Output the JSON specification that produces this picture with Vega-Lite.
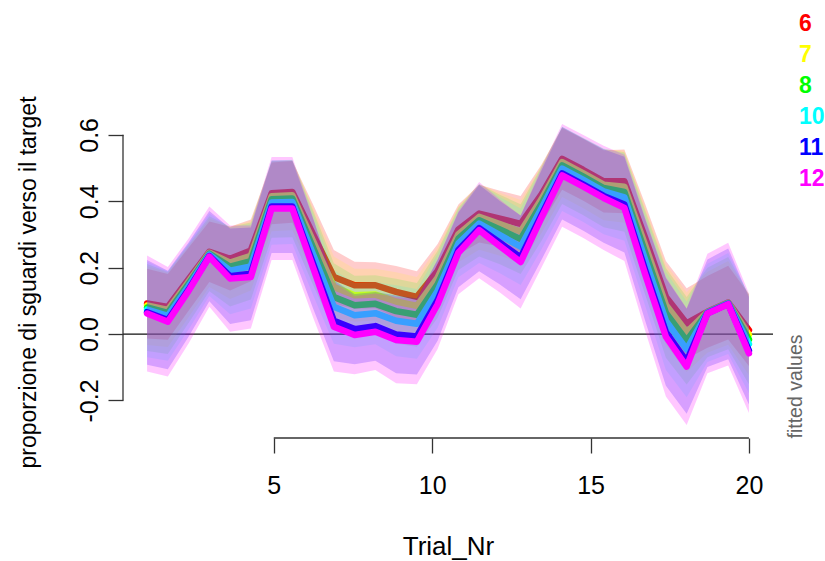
{
  "$schema": "https://vega.github.io/schema/vega-lite/v6.json",
  "width": 650,
  "height": 336,
  "autosize": {"type": "none"},
  "padding": {"left": 123, "top": 102, "right": 52, "bottom": 123},
  "background": "white",
  "config": {"view": {"stroke": null}, "font": "Liberation Sans"},
  "resolve": {"axis": {"y": "independent"}},
  "data": {"values": [
    {"trial": 1, "group": 6, "fit": 0.092, "lo": -0.013, "hi": 0.197},
    {"trial": 1.655, "group": 6, "fit": 0.082, "lo": -0.017, "hi": 0.181},
    {"trial": 2.31, "group": 6, "fit": 0.165, "lo": 0.07, "hi": 0.26},
    {"trial": 2.966, "group": 6, "fit": 0.248, "lo": 0.157, "hi": 0.339},
    {"trial": 3.621, "group": 6, "fit": 0.227, "lo": 0.131, "hi": 0.323},
    {"trial": 4.276, "group": 6, "fit": 0.252, "lo": 0.159, "hi": 0.345},
    {"trial": 4.931, "group": 6, "fit": 0.424, "lo": 0.331, "hi": 0.517},
    {"trial": 5.586, "group": 6, "fit": 0.428, "lo": 0.335, "hi": 0.521},
    {"trial": 6.241, "group": 6, "fit": 0.3, "lo": 0.21, "hi": 0.39},
    {"trial": 6.897, "group": 6, "fit": 0.172, "lo": 0.091, "hi": 0.253},
    {"trial": 7.552, "group": 6, "fit": 0.147, "lo": 0.076, "hi": 0.218},
    {"trial": 8.207, "group": 6, "fit": 0.147, "lo": 0.078, "hi": 0.216},
    {"trial": 8.862, "group": 6, "fit": 0.127, "lo": 0.049, "hi": 0.205},
    {"trial": 9.517, "group": 6, "fit": 0.112, "lo": 0.035, "hi": 0.189},
    {"trial": 10.172, "group": 6, "fit": 0.19, "lo": 0.109, "hi": 0.271},
    {"trial": 10.828, "group": 6, "fit": 0.315, "lo": 0.24, "hi": 0.39},
    {"trial": 11.483, "group": 6, "fit": 0.363, "lo": 0.276, "hi": 0.45},
    {"trial": 12.138, "group": 6, "fit": 0.348, "lo": 0.264, "hi": 0.432},
    {"trial": 12.793, "group": 6, "fit": 0.332, "lo": 0.248, "hi": 0.416},
    {"trial": 13.448, "group": 6, "fit": 0.42, "lo": 0.33, "hi": 0.51},
    {"trial": 14.103, "group": 6, "fit": 0.528, "lo": 0.435, "hi": 0.621},
    {"trial": 14.759, "group": 6, "fit": 0.495, "lo": 0.402, "hi": 0.588},
    {"trial": 15.414, "group": 6, "fit": 0.46, "lo": 0.366, "hi": 0.554},
    {"trial": 16.069, "group": 6, "fit": 0.46, "lo": 0.364, "hi": 0.556},
    {"trial": 16.724, "group": 6, "fit": 0.29, "lo": 0.188, "hi": 0.392},
    {"trial": 17.379, "group": 6, "fit": 0.112, "lo": 0.004, "hi": 0.22},
    {"trial": 18.034, "group": 6, "fit": 0.032, "lo": -0.074, "hi": 0.138},
    {"trial": 18.69, "group": 6, "fit": 0.067, "lo": -0.041, "hi": 0.175},
    {"trial": 19.345, "group": 6, "fit": 0.095, "lo": -0.016, "hi": 0.206},
    {"trial": 20, "group": 6, "fit": 0.012, "lo": -0.096, "hi": 0.12},

    {"trial": 1, "group": 7, "fit": 0.086, "lo": -0.033, "hi": 0.205},
    {"trial": 1.655, "group": 7, "fit": 0.073, "lo": -0.039, "hi": 0.185},
    {"trial": 2.31, "group": 7, "fit": 0.158, "lo": 0.051, "hi": 0.265},
    {"trial": 2.966, "group": 7, "fit": 0.245, "lo": 0.142, "hi": 0.348},
    {"trial": 3.621, "group": 7, "fit": 0.215, "lo": 0.106, "hi": 0.324},
    {"trial": 4.276, "group": 7, "fit": 0.236, "lo": 0.131, "hi": 0.341},
    {"trial": 4.931, "group": 7, "fit": 0.415, "lo": 0.31, "hi": 0.52},
    {"trial": 5.586, "group": 7, "fit": 0.418, "lo": 0.313, "hi": 0.523},
    {"trial": 6.241, "group": 7, "fit": 0.28, "lo": 0.178, "hi": 0.382},
    {"trial": 6.897, "group": 7, "fit": 0.142, "lo": 0.05, "hi": 0.234},
    {"trial": 7.552, "group": 7, "fit": 0.117, "lo": 0.037, "hi": 0.197},
    {"trial": 8.207, "group": 7, "fit": 0.119, "lo": 0.041, "hi": 0.197},
    {"trial": 8.862, "group": 7, "fit": 0.098, "lo": 0.01, "hi": 0.186},
    {"trial": 9.517, "group": 7, "fit": 0.085, "lo": -0.002, "hi": 0.172},
    {"trial": 10.172, "group": 7, "fit": 0.17, "lo": 0.078, "hi": 0.262},
    {"trial": 10.828, "group": 7, "fit": 0.301, "lo": 0.216, "hi": 0.386},
    {"trial": 11.483, "group": 7, "fit": 0.353, "lo": 0.254, "hi": 0.452},
    {"trial": 12.138, "group": 7, "fit": 0.331, "lo": 0.236, "hi": 0.426},
    {"trial": 12.793, "group": 7, "fit": 0.309, "lo": 0.214, "hi": 0.404},
    {"trial": 13.448, "group": 7, "fit": 0.406, "lo": 0.304, "hi": 0.508},
    {"trial": 14.103, "group": 7, "fit": 0.518, "lo": 0.413, "hi": 0.623},
    {"trial": 14.759, "group": 7, "fit": 0.485, "lo": 0.38, "hi": 0.59},
    {"trial": 15.414, "group": 7, "fit": 0.45, "lo": 0.343, "hi": 0.557},
    {"trial": 16.069, "group": 7, "fit": 0.444, "lo": 0.335, "hi": 0.553},
    {"trial": 16.724, "group": 7, "fit": 0.268, "lo": 0.152, "hi": 0.384},
    {"trial": 17.379, "group": 7, "fit": 0.088, "lo": -0.034, "hi": 0.21},
    {"trial": 18.034, "group": 7, "fit": 0.006, "lo": -0.114, "hi": 0.126},
    {"trial": 18.69, "group": 7, "fit": 0.066, "lo": -0.056, "hi": 0.188},
    {"trial": 19.345, "group": 7, "fit": 0.094, "lo": -0.032, "hi": 0.22},
    {"trial": 20, "group": 7, "fit": -0.002, "lo": -0.124, "hi": 0.12},

    {"trial": 1, "group": 8, "fit": 0.08, "lo": -0.051, "hi": 0.211},
    {"trial": 1.655, "group": 8, "fit": 0.064, "lo": -0.06, "hi": 0.188},
    {"trial": 2.31, "group": 8, "fit": 0.151, "lo": 0.033, "hi": 0.27},
    {"trial": 2.966, "group": 8, "fit": 0.242, "lo": 0.129, "hi": 0.355},
    {"trial": 3.621, "group": 8, "fit": 0.203, "lo": 0.083, "hi": 0.323},
    {"trial": 4.276, "group": 8, "fit": 0.22, "lo": 0.104, "hi": 0.336},
    {"trial": 4.931, "group": 8, "fit": 0.406, "lo": 0.29, "hi": 0.522},
    {"trial": 5.586, "group": 8, "fit": 0.408, "lo": 0.292, "hi": 0.524},
    {"trial": 6.241, "group": 8, "fit": 0.26, "lo": 0.148, "hi": 0.373},
    {"trial": 6.897, "group": 8, "fit": 0.112, "lo": 0.011, "hi": 0.213},
    {"trial": 7.552, "group": 8, "fit": 0.087, "lo": -0.002, "hi": 0.176},
    {"trial": 8.207, "group": 8, "fit": 0.091, "lo": 0.005, "hi": 0.177},
    {"trial": 8.862, "group": 8, "fit": 0.069, "lo": -0.029, "hi": 0.167},
    {"trial": 9.517, "group": 8, "fit": 0.058, "lo": -0.038, "hi": 0.154},
    {"trial": 10.172, "group": 8, "fit": 0.15, "lo": 0.049, "hi": 0.251},
    {"trial": 10.828, "group": 8, "fit": 0.287, "lo": 0.193, "hi": 0.381},
    {"trial": 11.483, "group": 8, "fit": 0.343, "lo": 0.234, "hi": 0.452},
    {"trial": 12.138, "group": 8, "fit": 0.315, "lo": 0.21, "hi": 0.42},
    {"trial": 12.793, "group": 8, "fit": 0.286, "lo": 0.181, "hi": 0.391},
    {"trial": 13.448, "group": 8, "fit": 0.392, "lo": 0.28, "hi": 0.505},
    {"trial": 14.103, "group": 8, "fit": 0.508, "lo": 0.392, "hi": 0.624},
    {"trial": 14.759, "group": 8, "fit": 0.475, "lo": 0.359, "hi": 0.591},
    {"trial": 15.414, "group": 8, "fit": 0.44, "lo": 0.322, "hi": 0.558},
    {"trial": 16.069, "group": 8, "fit": 0.428, "lo": 0.308, "hi": 0.548},
    {"trial": 16.724, "group": 8, "fit": 0.246, "lo": 0.119, "hi": 0.374},
    {"trial": 17.379, "group": 8, "fit": 0.064, "lo": -0.071, "hi": 0.199},
    {"trial": 18.034, "group": 8, "fit": -0.02, "lo": -0.152, "hi": 0.112},
    {"trial": 18.69, "group": 8, "fit": 0.065, "lo": -0.07, "hi": 0.2},
    {"trial": 19.345, "group": 8, "fit": 0.093, "lo": -0.046, "hi": 0.232},
    {"trial": 20, "group": 8, "fit": -0.016, "lo": -0.151, "hi": 0.119},

    {"trial": 1, "group": 10, "fit": 0.074, "lo": -0.07, "hi": 0.218},
    {"trial": 1.655, "group": 10, "fit": 0.055, "lo": -0.08, "hi": 0.19},
    {"trial": 2.31, "group": 10, "fit": 0.144, "lo": 0.014, "hi": 0.274},
    {"trial": 2.966, "group": 10, "fit": 0.239, "lo": 0.115, "hi": 0.363},
    {"trial": 3.621, "group": 10, "fit": 0.191, "lo": 0.06, "hi": 0.322},
    {"trial": 4.276, "group": 10, "fit": 0.204, "lo": 0.077, "hi": 0.331},
    {"trial": 4.931, "group": 10, "fit": 0.396, "lo": 0.269, "hi": 0.523},
    {"trial": 5.586, "group": 10, "fit": 0.398, "lo": 0.271, "hi": 0.525},
    {"trial": 6.241, "group": 10, "fit": 0.24, "lo": 0.117, "hi": 0.363},
    {"trial": 6.897, "group": 10, "fit": 0.082, "lo": -0.029, "hi": 0.193},
    {"trial": 7.552, "group": 10, "fit": 0.057, "lo": -0.04, "hi": 0.154},
    {"trial": 8.207, "group": 10, "fit": 0.063, "lo": -0.031, "hi": 0.157},
    {"trial": 8.862, "group": 10, "fit": 0.04, "lo": -0.067, "hi": 0.147},
    {"trial": 9.517, "group": 10, "fit": 0.031, "lo": -0.074, "hi": 0.136},
    {"trial": 10.172, "group": 10, "fit": 0.13, "lo": 0.019, "hi": 0.241},
    {"trial": 10.828, "group": 10, "fit": 0.273, "lo": 0.171, "hi": 0.376},
    {"trial": 11.483, "group": 10, "fit": 0.333, "lo": 0.214, "hi": 0.452},
    {"trial": 12.138, "group": 10, "fit": 0.298, "lo": 0.183, "hi": 0.413},
    {"trial": 12.793, "group": 10, "fit": 0.263, "lo": 0.148, "hi": 0.378},
    {"trial": 13.448, "group": 10, "fit": 0.378, "lo": 0.255, "hi": 0.501},
    {"trial": 14.103, "group": 10, "fit": 0.498, "lo": 0.371, "hi": 0.625},
    {"trial": 14.759, "group": 10, "fit": 0.465, "lo": 0.338, "hi": 0.592},
    {"trial": 15.414, "group": 10, "fit": 0.43, "lo": 0.301, "hi": 0.559},
    {"trial": 16.069, "group": 10, "fit": 0.412, "lo": 0.281, "hi": 0.543},
    {"trial": 16.724, "group": 10, "fit": 0.224, "lo": 0.085, "hi": 0.363},
    {"trial": 17.379, "group": 10, "fit": 0.04, "lo": -0.108, "hi": 0.188},
    {"trial": 18.034, "group": 10, "fit": -0.046, "lo": -0.19, "hi": 0.098},
    {"trial": 18.69, "group": 10, "fit": 0.064, "lo": -0.084, "hi": 0.212},
    {"trial": 19.345, "group": 10, "fit": 0.092, "lo": -0.06, "hi": 0.244},
    {"trial": 20, "group": 10, "fit": -0.03, "lo": -0.178, "hi": 0.118},

    {"trial": 1, "group": 11, "fit": 0.066, "lo": -0.092, "hi": 0.223},
    {"trial": 1.655, "group": 11, "fit": 0.042, "lo": -0.106, "hi": 0.191},
    {"trial": 2.31, "group": 11, "fit": 0.134, "lo": -0.008, "hi": 0.276},
    {"trial": 2.966, "group": 11, "fit": 0.235, "lo": 0.099, "hi": 0.371},
    {"trial": 3.621, "group": 11, "fit": 0.174, "lo": 0.03, "hi": 0.318},
    {"trial": 4.276, "group": 11, "fit": 0.182, "lo": 0.042, "hi": 0.321},
    {"trial": 4.931, "group": 11, "fit": 0.384, "lo": 0.244, "hi": 0.523},
    {"trial": 5.586, "group": 11, "fit": 0.384, "lo": 0.244, "hi": 0.523},
    {"trial": 6.241, "group": 11, "fit": 0.212, "lo": 0.077, "hi": 0.347},
    {"trial": 6.897, "group": 11, "fit": 0.04, "lo": -0.082, "hi": 0.162},
    {"trial": 7.552, "group": 11, "fit": 0.015, "lo": -0.091, "hi": 0.121},
    {"trial": 8.207, "group": 11, "fit": 0.024, "lo": -0.08, "hi": 0.127},
    {"trial": 8.862, "group": 11, "fit": -0.001, "lo": -0.118, "hi": 0.116},
    {"trial": 9.517, "group": 11, "fit": -0.007, "lo": -0.122, "hi": 0.108},
    {"trial": 10.172, "group": 11, "fit": 0.102, "lo": -0.02, "hi": 0.224},
    {"trial": 10.828, "group": 11, "fit": 0.253, "lo": 0.141, "hi": 0.366},
    {"trial": 11.483, "group": 11, "fit": 0.319, "lo": 0.189, "hi": 0.45},
    {"trial": 12.138, "group": 11, "fit": 0.275, "lo": 0.149, "hi": 0.401},
    {"trial": 12.793, "group": 11, "fit": 0.231, "lo": 0.105, "hi": 0.357},
    {"trial": 13.448, "group": 11, "fit": 0.358, "lo": 0.223, "hi": 0.493},
    {"trial": 14.103, "group": 11, "fit": 0.484, "lo": 0.345, "hi": 0.624},
    {"trial": 14.759, "group": 11, "fit": 0.451, "lo": 0.312, "hi": 0.59},
    {"trial": 15.414, "group": 11, "fit": 0.416, "lo": 0.275, "hi": 0.557},
    {"trial": 16.069, "group": 11, "fit": 0.39, "lo": 0.246, "hi": 0.534},
    {"trial": 16.724, "group": 11, "fit": 0.193, "lo": 0.04, "hi": 0.346},
    {"trial": 17.379, "group": 11, "fit": 0.006, "lo": -0.156, "hi": 0.168},
    {"trial": 18.034, "group": 11, "fit": -0.082, "lo": -0.24, "hi": 0.076},
    {"trial": 18.69, "group": 11, "fit": 0.063, "lo": -0.099, "hi": 0.225},
    {"trial": 19.345, "group": 11, "fit": 0.091, "lo": -0.076, "hi": 0.258},
    {"trial": 20, "group": 11, "fit": -0.05, "lo": -0.212, "hi": 0.112},

    {"trial": 1, "group": 12, "fit": 0.062, "lo": -0.113, "hi": 0.237},
    {"trial": 1.655, "group": 12, "fit": 0.037, "lo": -0.128, "hi": 0.202},
    {"trial": 2.31, "group": 12, "fit": 0.13, "lo": -0.028, "hi": 0.288},
    {"trial": 2.966, "group": 12, "fit": 0.233, "lo": 0.082, "hi": 0.384},
    {"trial": 3.621, "group": 12, "fit": 0.167, "lo": 0.007, "hi": 0.327},
    {"trial": 4.276, "group": 12, "fit": 0.172, "lo": 0.017, "hi": 0.327},
    {"trial": 4.931, "group": 12, "fit": 0.378, "lo": 0.223, "hi": 0.533},
    {"trial": 5.586, "group": 12, "fit": 0.378, "lo": 0.223, "hi": 0.533},
    {"trial": 6.241, "group": 12, "fit": 0.2, "lo": 0.05, "hi": 0.35},
    {"trial": 6.897, "group": 12, "fit": 0.022, "lo": -0.113, "hi": 0.157},
    {"trial": 7.552, "group": 12, "fit": -0.003, "lo": -0.121, "hi": 0.115},
    {"trial": 8.207, "group": 12, "fit": 0.007, "lo": -0.108, "hi": 0.122},
    {"trial": 8.862, "group": 12, "fit": -0.018, "lo": -0.148, "hi": 0.112},
    {"trial": 9.517, "group": 12, "fit": -0.023, "lo": -0.151, "hi": 0.105},
    {"trial": 10.172, "group": 12, "fit": 0.09, "lo": -0.045, "hi": 0.225},
    {"trial": 10.828, "group": 12, "fit": 0.245, "lo": 0.12, "hi": 0.37},
    {"trial": 11.483, "group": 12, "fit": 0.313, "lo": 0.168, "hi": 0.458},
    {"trial": 12.138, "group": 12, "fit": 0.265, "lo": 0.125, "hi": 0.405},
    {"trial": 12.793, "group": 12, "fit": 0.217, "lo": 0.077, "hi": 0.357},
    {"trial": 13.448, "group": 12, "fit": 0.35, "lo": 0.2, "hi": 0.5},
    {"trial": 14.103, "group": 12, "fit": 0.478, "lo": 0.323, "hi": 0.633},
    {"trial": 14.759, "group": 12, "fit": 0.445, "lo": 0.29, "hi": 0.6},
    {"trial": 15.414, "group": 12, "fit": 0.41, "lo": 0.253, "hi": 0.567},
    {"trial": 16.069, "group": 12, "fit": 0.38, "lo": 0.22, "hi": 0.54},
    {"trial": 16.724, "group": 12, "fit": 0.18, "lo": 0.01, "hi": 0.35},
    {"trial": 17.379, "group": 12, "fit": -0.008, "lo": -0.188, "hi": 0.172},
    {"trial": 18.034, "group": 12, "fit": -0.098, "lo": -0.274, "hi": 0.078},
    {"trial": 18.69, "group": 12, "fit": 0.062, "lo": -0.118, "hi": 0.242},
    {"trial": 19.345, "group": 12, "fit": 0.09, "lo": -0.095, "hi": 0.275},
    {"trial": 20, "group": 12, "fit": -0.058, "lo": -0.238, "hi": 0.122}
  ]},
  "encoding": {
    "x": {"field": "trial", "type": "quantitative", "scale": {"domain": [0.24, 20.76], "nice": false, "zero": false}}
  },
  "layer": [
    {
      "data": {"values": [{"x0": 0.24, "x1": 20.76, "y0": 0}]},
      "mark": {"type": "rule", "color": "#111111", "strokeWidth": 1.3},
      "encoding": {
        "x": {"field": "x0", "type": "quantitative", "scale": {"domain": [0.24, 20.76], "nice": false, "zero": false}},
        "x2": {"field": "x1"},
        "y": {"field": "y0", "type": "quantitative", "scale": {"domain": [-0.313, 0.699], "nice": false, "zero": false},
          "axis": {"orient": "right", "title": "fitted values", "labels": false, "ticks": false, "domain": false, "grid": false,
            "titleAngle": 270, "titleAlign": "left", "titleBaseline": "middle", "titleX": 22, "titleY": 336,
            "titleColor": "#666666", "titleFontSize": 19.5, "titleFontWeight": "normal", "titleFont": "Liberation Sans"}}
      }
    },
    {
      "data": {"values": [{"x0": 0.24, "y0": -0.2, "y1": 0.6}]},
      "mark": {"type": "rule", "color": "#333333", "strokeWidth": 1.3},
      "encoding": {
        "x": {"field": "x0", "type": "quantitative", "scale": {"domain": [0.24, 20.76], "nice": false, "zero": false}},
        "y": {"field": "y0", "type": "quantitative", "scale": {"domain": [-0.313, 0.699], "nice": false, "zero": false},
          "axis": {"orient": "left", "values": [-0.2, 0, 0.2, 0.4, 0.6], "labelExpr": "replace(format(datum.value, '.1f'), '\u2212', '-')",
            "domain": false, "grid": false, "tickSize": 15, "tickColor": "#333333", "tickWidth": 1.3,
            "labelAngle": -90, "labelAlign": "center", "labelBaseline": "bottom", "labelPadding": 6,
            "labelFontSize": 25, "labelColor": "black", "labelFont": "Liberation Sans", "labelOverlap": false, "labelFlush": false,
            "title": "proporzione di sguardi verso il target", "titleFontSize": 23, "titleFontWeight": "normal", "titleColor": "black",
            "titleFont": "Liberation Sans", "titleAngle": 270, "titleAlign": "center", "titleBaseline": "middle", "titleX": -95, "titleY": 180}},
        "y2": {"field": "y1"}
      }
    },
    {
      "data": {"values": [{"x0": 5, "x1": 20, "y0": -0.313}]},
      "mark": {"type": "rule", "color": "#333333", "strokeWidth": 1.3},
      "encoding": {
        "x": {"field": "x0", "type": "quantitative", "scale": {"domain": [0.24, 20.76], "nice": false, "zero": false},
          "axis": {"values": [5, 10, 15, 20], "domain": false, "grid": false, "tickSize": 15, "tickColor": "#333333", "tickWidth": 1.3,
            "labelFontSize": 25, "labelColor": "black", "labelFont": "Liberation Sans", "labelPadding": 20, "labelFlush": false, "labelOverlap": false,
            "title": "Trial_Nr", "titleFontSize": 26, "titleFontWeight": "normal", "titleColor": "black", "titleFont": "Liberation Sans",
            "titleBaseline": "alphabetic", "titleY": 116}},
        "x2": {"field": "x1"},
        "y": {"field": "y0", "type": "quantitative", "scale": {"domain": [-0.313, 0.699], "nice": false, "zero": false}, "axis": null}
      }
    },
    {
      "transform": [{"filter": "datum.group == 6"}],
      "mark": {"type": "area", "opacity": 0.2},
      "encoding": {
        "y": {"field": "lo", "type": "quantitative", "scale": {"domain": [-0.313, 0.699], "nice": false, "zero": false}, "axis": null},
        "y2": {"field": "hi"},
        "color": {"field": "group", "type": "nominal",
          "scale": {"domain": [6, 7, 8, 10, 11, 12], "range": ["#FF0000", "#FFFF00", "#00FF00", "#00FFFF", "#0000FF", "#FF00FF"]},
          "legend": {"title": null, "orient": "none", "legendX": 653, "legendY": -90, "direction": "vertical",
            "symbolSize": 0, "symbolOpacity": 0, "symbolStrokeWidth": 0, "labelOffset": 0, "padding": 0, "rowPadding": 7,
            "labelFontSize": 23, "labelFontWeight": "bold", "labelFont": "Liberation Sans",
            "encode": {"labels": {"update": {"fill": {"scale": "color", "field": "value"}}}}}}
      }
    },
    {
      "transform": [{"filter": "datum.group == 6"}],
      "mark": {"type": "line", "strokeWidth": 6.5, "strokeJoin": "round", "strokeCap": "round"},
      "encoding": {
        "y": {"field": "fit", "type": "quantitative", "scale": {"domain": [-0.313, 0.699], "nice": false, "zero": false}, "axis": null},
        "color": {"field": "group", "type": "nominal", "scale": {"domain": [6, 7, 8, 10, 11, 12], "range": ["#FF0000", "#FFFF00", "#00FF00", "#00FFFF", "#0000FF", "#FF00FF"]}}
      }
    },
    {
      "transform": [{"filter": "datum.group == 7"}],
      "mark": {"type": "area", "opacity": 0.13},
      "encoding": {
        "y": {"field": "lo", "type": "quantitative", "scale": {"domain": [-0.313, 0.699], "nice": false, "zero": false}, "axis": null},
        "y2": {"field": "hi"},
        "color": {"field": "group", "type": "nominal", "scale": {"domain": [6, 7, 8, 10, 11, 12], "range": ["#FF0000", "#FFFF00", "#00FF00", "#00FFFF", "#0000FF", "#FF00FF"]}}
      }
    },
    {
      "transform": [{"filter": "datum.group == 7"}],
      "mark": {"type": "line", "strokeWidth": 6.5, "strokeJoin": "round", "strokeCap": "round"},
      "encoding": {
        "y": {"field": "fit", "type": "quantitative", "scale": {"domain": [-0.313, 0.699], "nice": false, "zero": false}, "axis": null},
        "color": {"field": "group", "type": "nominal", "scale": {"domain": [6, 7, 8, 10, 11, 12], "range": ["#FF0000", "#FFFF00", "#00FF00", "#00FFFF", "#0000FF", "#FF00FF"]}}
      }
    },
    {
      "transform": [{"filter": "datum.group == 8"}],
      "mark": {"type": "area", "opacity": 0.13},
      "encoding": {
        "y": {"field": "lo", "type": "quantitative", "scale": {"domain": [-0.313, 0.699], "nice": false, "zero": false}, "axis": null},
        "y2": {"field": "hi"},
        "color": {"field": "group", "type": "nominal", "scale": {"domain": [6, 7, 8, 10, 11, 12], "range": ["#FF0000", "#FFFF00", "#00FF00", "#00FFFF", "#0000FF", "#FF00FF"]}}
      }
    },
    {
      "transform": [{"filter": "datum.group == 8"}],
      "mark": {"type": "line", "strokeWidth": 6.5, "strokeJoin": "round", "strokeCap": "round"},
      "encoding": {
        "y": {"field": "fit", "type": "quantitative", "scale": {"domain": [-0.313, 0.699], "nice": false, "zero": false}, "axis": null},
        "color": {"field": "group", "type": "nominal", "scale": {"domain": [6, 7, 8, 10, 11, 12], "range": ["#FF0000", "#FFFF00", "#00FF00", "#00FFFF", "#0000FF", "#FF00FF"]}}
      }
    },
    {
      "transform": [{"filter": "datum.group == 10"}],
      "mark": {"type": "area", "opacity": 0.13},
      "encoding": {
        "y": {"field": "lo", "type": "quantitative", "scale": {"domain": [-0.313, 0.699], "nice": false, "zero": false}, "axis": null},
        "y2": {"field": "hi"},
        "color": {"field": "group", "type": "nominal", "scale": {"domain": [6, 7, 8, 10, 11, 12], "range": ["#FF0000", "#FFFF00", "#00FF00", "#00FFFF", "#0000FF", "#FF00FF"]}}
      }
    },
    {
      "transform": [{"filter": "datum.group == 10"}],
      "mark": {"type": "line", "strokeWidth": 6.5, "strokeJoin": "round", "strokeCap": "round"},
      "encoding": {
        "y": {"field": "fit", "type": "quantitative", "scale": {"domain": [-0.313, 0.699], "nice": false, "zero": false}, "axis": null},
        "color": {"field": "group", "type": "nominal", "scale": {"domain": [6, 7, 8, 10, 11, 12], "range": ["#FF0000", "#FFFF00", "#00FF00", "#00FFFF", "#0000FF", "#FF00FF"]}}
      }
    },
    {
      "transform": [{"filter": "datum.group == 11"}],
      "mark": {"type": "area", "opacity": 0.2},
      "encoding": {
        "y": {"field": "lo", "type": "quantitative", "scale": {"domain": [-0.313, 0.699], "nice": false, "zero": false}, "axis": null},
        "y2": {"field": "hi"},
        "color": {"field": "group", "type": "nominal", "scale": {"domain": [6, 7, 8, 10, 11, 12], "range": ["#FF0000", "#FFFF00", "#00FF00", "#00FFFF", "#0000FF", "#FF00FF"]}}
      }
    },
    {
      "transform": [{"filter": "datum.group == 11"}],
      "mark": {"type": "line", "strokeWidth": 6.5, "strokeJoin": "round", "strokeCap": "round"},
      "encoding": {
        "y": {"field": "fit", "type": "quantitative", "scale": {"domain": [-0.313, 0.699], "nice": false, "zero": false}, "axis": null},
        "color": {"field": "group", "type": "nominal", "scale": {"domain": [6, 7, 8, 10, 11, 12], "range": ["#FF0000", "#FFFF00", "#00FF00", "#00FFFF", "#0000FF", "#FF00FF"]}}
      }
    },
    {
      "transform": [{"filter": "datum.group == 12"}],
      "mark": {"type": "area", "opacity": 0.22},
      "encoding": {
        "y": {"field": "lo", "type": "quantitative", "scale": {"domain": [-0.313, 0.699], "nice": false, "zero": false}, "axis": null},
        "y2": {"field": "hi"},
        "color": {"field": "group", "type": "nominal", "scale": {"domain": [6, 7, 8, 10, 11, 12], "range": ["#FF0000", "#FFFF00", "#00FF00", "#00FFFF", "#0000FF", "#FF00FF"]}}
      }
    },
    {
      "transform": [{"filter": "datum.group == 12"}],
      "mark": {"type": "line", "strokeWidth": 6.5, "strokeJoin": "round", "strokeCap": "round"},
      "encoding": {
        "y": {"field": "fit", "type": "quantitative", "scale": {"domain": [-0.313, 0.699], "nice": false, "zero": false}, "axis": null},
        "color": {"field": "group", "type": "nominal", "scale": {"domain": [6, 7, 8, 10, 11, 12], "range": ["#FF0000", "#FFFF00", "#00FF00", "#00FFFF", "#0000FF", "#FF00FF"]}}
      }
    }
  ]
}
